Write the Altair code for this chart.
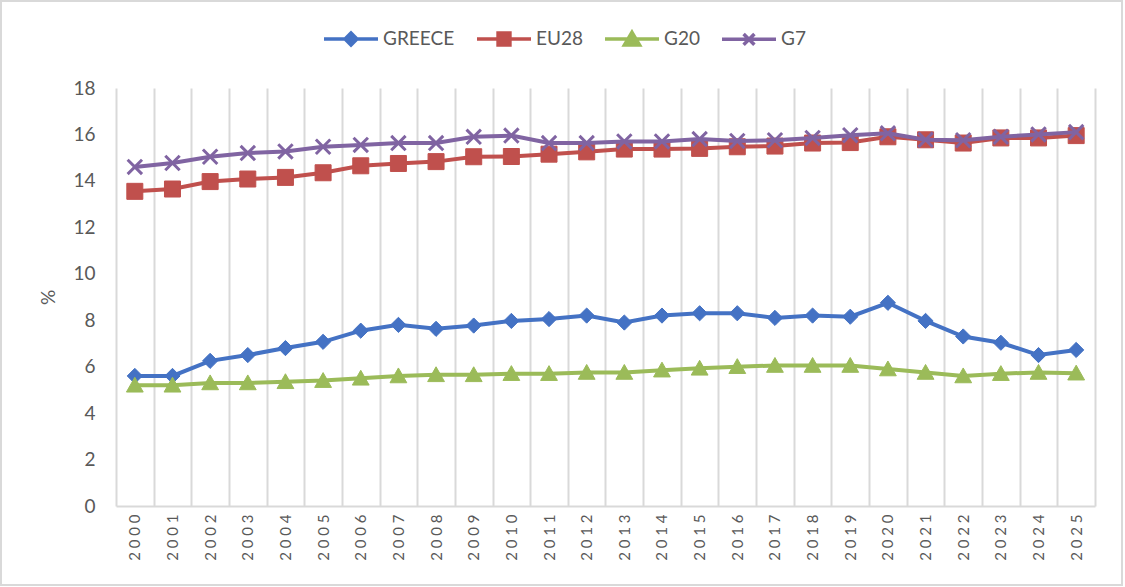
import altair as alt
import pandas as pd

# ---- data -------------------------------------------------------------
years = [str(y) for y in range(2000, 2026)]

greece = [5.6, 5.6, 6.25, 6.5, 6.8, 7.07, 7.55, 7.8, 7.63, 7.77, 7.97, 8.05, 8.2,
          7.9, 8.2, 8.3, 8.3, 8.1, 8.2, 8.15, 8.75, 7.97, 7.3, 7.03, 6.5, 6.72]
eu28 = [13.55, 13.65, 13.97, 14.08, 14.15, 14.35, 14.65, 14.75, 14.83, 15.04, 15.05,
        15.15, 15.25, 15.37, 15.37, 15.4, 15.47, 15.5, 15.63, 15.65, 15.9, 15.77,
        15.63, 15.85, 15.85, 15.95]
g20 = [5.2, 5.2, 5.3, 5.3, 5.35, 5.4, 5.5, 5.6, 5.65, 5.65, 5.7, 5.7, 5.75, 5.75,
       5.85, 5.93, 6.0, 6.05, 6.05, 6.05, 5.9, 5.75, 5.6, 5.7, 5.75, 5.72]
g7 = [14.6, 14.77, 15.04, 15.2, 15.27, 15.47, 15.55, 15.63, 15.63, 15.9, 15.95,
      15.63, 15.63, 15.7, 15.7, 15.8, 15.72, 15.75, 15.85, 15.97, 16.05, 15.77,
      15.75, 15.9, 16.0, 16.1]

series_names = ["GREECE", "EU28", "G20", "G7"]
series_values = [greece, eu28, g20, g7]
series_colors = ["#4472C4", "#C0504D", "#9BBB59", "#8064A2"]

y_ticks = list(range(0, 19, 2))

# ---- styling ----------------------------------------------------------
FONT = "Lato"
TEXT = "#595959"
GRID = "#d9d9d9"

# marker outlines (unit = half the marker size)
marker_paths = {
    "GREECE": "M0,-0.95L0.95,0L0,0.95L-0.95,0Z",
    "EU28": "M-1,-1H1V1H-1Z",
    "G20": "M0,-1L1.05,0.85H-1.05Z",
    "G7": "M-0.9,-0.9L0.9,0.9M-0.9,0.9L0.9,-0.9",
}
marker_stroke = {"GREECE": 1, "EU28": 1, "G20": 1, "G7": 3}

# legend keys: a line segment with the marker on top of it
legend_paths = {
    "GREECE": "M-1,0H1M0,-0.22L0.22,0L0,0.22L-0.22,0Z",
    "EU28": "M-1,0H1M-0.22,-0.22H0.22V0.22H-0.22Z",
    "G20": "M-1,0H1M0,-0.25L0.28,0.22H-0.28Z",
    "G7": "M-1,0H1M-0.2,-0.2L0.2,0.2M-0.2,0.2L0.2,-0.2",
}
shape_expr = "'" + legend_paths["G7"] + "'"
for name in reversed(series_names[:-1]):
    shape_expr = f"datum.value === '{name}' ? '{legend_paths[name]}' : ({shape_expr})"

color_scale = alt.Scale(domain=series_names, range=series_colors)

legend_def = alt.Legend(
    title=None,
    orient="none",
    legendX=206,
    legendY=-78,
    direction="horizontal",
    padding=0,
    symbolSize=2916,
    symbolType=alt.ExprRef(expr=shape_expr),
    symbolStrokeWidth=3.5,
    symbolOpacity=1,
    labelFont=FONT,
    labelFontSize=19,
    labelColor=TEXT,
    labelOffset=3,
    columnPadding=15,
)

x_enc = alt.X(
    "year:O",
    scale=alt.Scale(type="band", paddingInner=0, paddingOuter=0),
    axis=alt.Axis(
        title=None,
        tickBand="extent",
        grid=True,
        gridColor=GRID,
        gridWidth=2,
        ticks=False,
        domainColor=GRID,
        domainWidth=2,
        labelAngle=270,
        labelPadding=8,
        labelFont=FONT,
        labelFontSize=15,
        labelColor=TEXT,
        labelExpr="join(split(datum.label, ''), ' ')",
    ),
)

y_enc = alt.Y(
    "value:Q",
    scale=alt.Scale(domain=[0, 18], nice=False),
    axis=alt.Axis(
        values=y_ticks,
        grid=False,
        domain=False,
        ticks=False,
        labelFont=FONT,
        labelFontSize=19,
        labelColor=TEXT,
        labelPadding=21,
        title="%",
        titleFont=FONT,
        titleFontSize=19,
        titleFontWeight="normal",
        titleColor=TEXT,
        titlePadding=14,
    ),
)

# ---- one line + marker layer per series, drawn in series order -------
layers = []
for name, vals, col in zip(series_names, series_values, series_colors):
    df = pd.DataFrame({"year": years, "value": vals, "series": name})
    base = alt.Chart(df).encode(
        x=x_enc,
        y=y_enc,
        color=alt.Color("series:N", scale=color_scale, legend=legend_def),
    )
    line = base.mark_line(strokeWidth=4)
    pts = base.mark_point(
        shape=marker_paths[name],
        filled=True,
        size=256,
        stroke=col,
        strokeWidth=marker_stroke[name],
        opacity=1,
    )
    layers += [line, pts]

# thin frame around the whole figure
frame = alt.Chart(pd.DataFrame({"frame": [0]})).mark_rect(
    fillOpacity=0, stroke=GRID, strokeWidth=2
).encode(
    x=alt.value(-115), x2=alt.value(1006), y=alt.value(-87), y2=alt.value(497)
)

chart = (
    alt.layer(frame, *layers)
    .properties(
        width=979,
        height=418,
        autosize=alt.AutoSizeParams(type="none"),
        padding={"left": 116, "top": 88, "right": 30, "bottom": 81},
    )
    .configure_view(stroke=None)
)

chart.save("out.html", embed_options={"renderer": "svg", "actions": False})
